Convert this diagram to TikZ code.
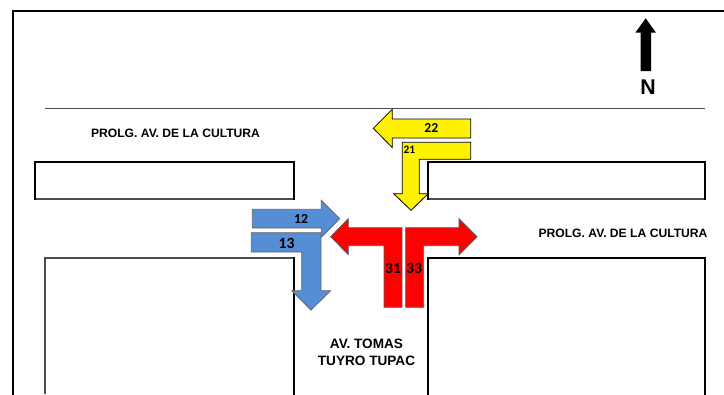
\documentclass[tikz,border=0pt]{standalone}
\usepackage{fontspec}
\setmainfont{Liberation Sans}
\newfontfamily\numfont{Carlito}
\definecolor{bluefill}{RGB}{85,142,213}
\tikzset{
  x=0.75pt,y=-0.75pt,
  wall/.style={draw=black,line width=1.5pt,line cap=rect},
  thin wall/.style={draw=black!70,line width=1.1pt},
  fine/.style={draw=black,line width=0.8pt},
  yellowarrow/.style={draw=black,fill=yellow,line width=0.6pt},
  bluearrow/.style={draw=black!60,fill=bluefill,line width=0.6pt},
  redarrow/.style={draw=black!65,fill=red,line width=0.6pt},
  road/.style={font=\bfseries\fontsize{9.1pt}{10pt}\selectfont,align=center,inner sep=0pt},
  num/.style={font=\numfont\bfseries\fontsize{10.3pt}{11pt}\selectfont,inner sep=0pt},
  numlarge/.style={font=\numfont\bfseries\fontsize{11.7pt}{12pt}\selectfont,inner sep=0pt},
}
\begin{document}
\begin{tikzpicture}
\useasboundingbox (0,0) rectangle (724,394);
\fill[white] (0,0) rectangle (724,394);
% frame
\draw[wall] (13,394) -- (13,10.5) -- (724,10.5);
% road line
\draw[thin wall] (45,108.5) -- (705,108.5);
% blocks
\draw[thin wall] (35,199) -- (294,199);
\draw[wall] (35,199) -- (35,162) -- (294,162) -- (294,199);
\draw[thin wall] (428,199) -- (705,199);
\draw[fine] (428,162) -- (705,162);
\draw[wall,line width=1.2pt] (705,162) -- (705,199);
\draw[wall] (428,162) -- (428,199);
\draw[thin wall] (45,394) -- (45,258) -- (294,258);
\draw[wall] (294,258) -- (294,394);
\draw[wall] (428,394) -- (428,258) -- (705,258) -- (705,394);
% north arrow
\fill[black] (645.7,18.3) -- (656,32.7) -- (651,32.7) -- (651,71) -- (640.7,71) -- (640.7,32.7) -- (635.3,32.7) -- cycle;
\node[inner sep=0pt,font=\bfseries\fontsize{16pt}{16pt}\selectfont] (north) at (648,87) {N};
% yellow
\draw[yellowarrow] (373.3,128.3) -- (392.3,109.3) -- (392.3,119) -- (470.7,119) -- (470.7,138) -- (392.3,138) -- (392.3,147.7) -- cycle;
\draw[yellowarrow] (402.3,142.3) -- (470.7,142.3) -- (470.7,159.3) -- (419.3,159.3) -- (419.3,193.7) -- (428.3,193.7) -- (411,210.3) -- (393.7,193.7) -- (402.3,193.7) -- cycle;
% blue
\draw[bluearrow] (252.3,209.3) -- (321.3,209.3) -- (321.3,200.3) -- (339.7,218.7) -- (321.3,237.3) -- (321.3,228) -- (252.3,228) -- cycle;
\draw[bluearrow] (251.3,232.7) -- (321,232.7) -- (321,290.7) -- (330.7,290.7) -- (311,310) -- (291.7,290.7) -- (301.7,290.7) -- (301.7,252) -- (251.3,252) -- cycle;
% red
\draw[redarrow] (330.7,236.7) -- (348.3,218.7) -- (348.3,227.7) -- (402,227.7) -- (402,307.3) -- (384,307.3) -- (384,245.7) -- (348.3,245.7) -- (348.3,254.7) -- cycle;
\draw[redarrow] (477,236.7) -- (459,218.7) -- (459,227.7) -- (405.7,227.7) -- (405.7,307.3) -- (423.7,307.3) -- (423.7,245.7) -- (459,245.7) -- (459,254.7) -- cycle;
% labels
\node[num] (n22) at (431.3,127.5) {22};
\node[num,font=\numfont\bfseries\fontsize{8.5pt}{9pt}\selectfont] (n21) at (409.3,150) {21};
\node[num] (n12) at (301,218.5) {12};
\node[numlarge] (n13) at (286.5,243) {13};
\node[numlarge] (n31) at (393,268.5) {31};
\node[numlarge] (n33) at (414,268.5) {33};
\node[road] (r1) at (175.5,133) {PROLG. AV. DE LA CULTURA};
\node[road] (r2) at (623,233.5) {PROLG. AV. DE LA CULTURA};
\node[road,font=\bfseries\fontsize{10.2pt}{12.75pt}\selectfont] (r3) at (366.5,352.5) {AV. TOMAS\\TUYRO TUPAC};
\end{tikzpicture}
\end{document}
